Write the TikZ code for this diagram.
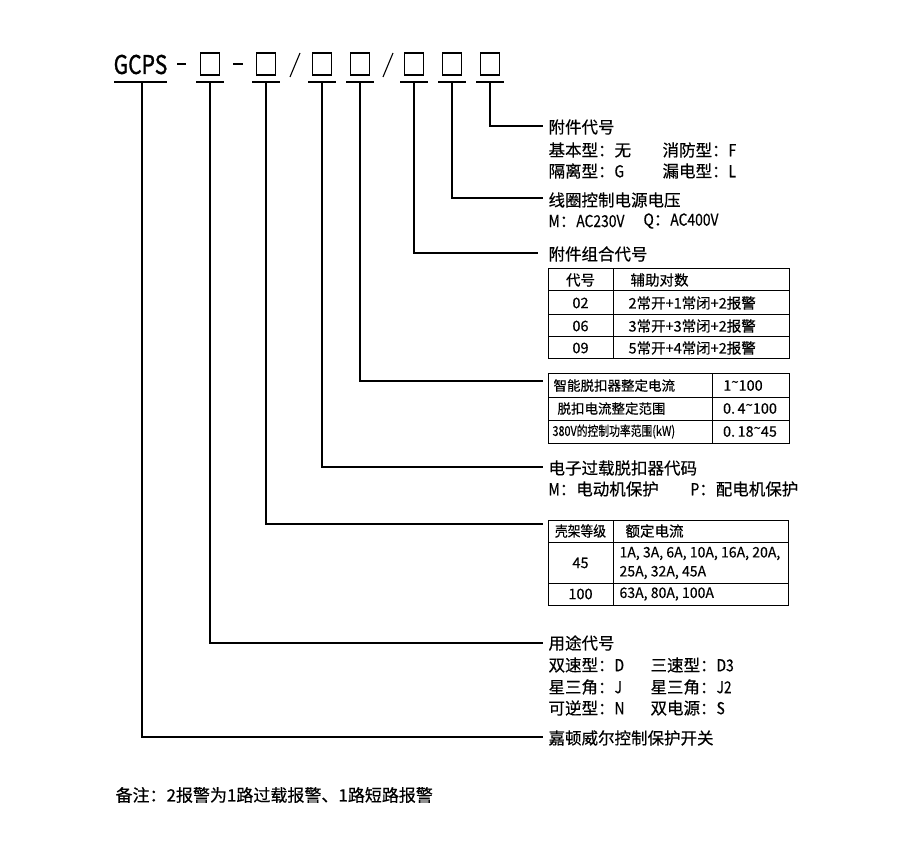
\documentclass[tikz,border=0pt]{standalone}
\usepackage{fontspec}
\setmainfont[FakeBold=0.4]{Noto Sans CJK SC}
\newfontfamily\gcpsfont[FakeBold=1.2]{Noto Sans CJK SC}
\newcommand\uptld{\raisebox{0.5ex}{\fontsize{13}{13}\selectfont\textasciitilde}}
\newcommand\lat[1]{\scalebox{0.84}[1]{#1}}
\begin{document}
\begin{tikzpicture}[x=1pt,y=-1pt,line width=1.1pt,
  box/.style={draw,minimum width=19pt,minimum height=22pt,inner sep=0pt},
  lbl/.style={font=\fontsize{16.5}{18}\selectfont,anchor=west,inner sep=0pt},
  tb/.style={font=\fontsize{14.5}{16}\selectfont,inner sep=0pt},
  tbw/.style={tb,anchor=west},
  grid/.style={line width=1pt}]
\useasboundingbox (0,0) rectangle (900,850);
% header
\node[font=\fontsize{24.5}{26}\gcpsfont,inner sep=0pt] (gcps) at (140.5,64.5) {\scalebox{0.86}[1.05]{GCPS}};
\foreach \n/\x in {1/210,2/266,3/322,4/360,5/414,6/452,7/490}{
  \node[box] (b\n) at (\x,64) {};
  \coordinate (u\n) at (\x,82);
  \draw (\x-14,82) -- (\x+14,82);
}
\coordinate (u0) at (142,82);
\draw (114,82) -- (167,82);
\draw (177,64) -- (186,64);
\draw (233,64) -- (243,64);
\draw (300,53) -- (290,77);
\draw (393,53) -- (383,77);
% leader ends
\coordinate (e7) at (543,126);
\coordinate (e6) at (543,198);
\coordinate (e5) at (538,253);
\coordinate (e4) at (543,381);
\coordinate (e3) at (543,467);
\coordinate (e2) at (543,524);
\coordinate (e1) at (543,643);
\coordinate (e0) at (543,737);
\foreach \n in {0,...,7}{\draw (u\n) |- (e\n);}
% 7
\node[lbl] (t7) at (548,127) {附件代号};
\node[lbl] (t7a) at (548,150) {基本型：无};
\node[lbl] (t7b) at (662,150) {消防型：\lat{F}};
\node[lbl] (t7c) at (548,171) {隔离型：\lat{G}};
\node[lbl] (t7d) at (662,171) {漏电型：\lat{L}};
% 6
\node[lbl] (t6) at (548,200) {线圈控制电源电压};
\node[lbl] (t6a) at (548,221) {\lat{M}：\lat{AC230V}};
\node[lbl] (t6b) at (643,221) {\lat{Q}：\lat{AC400V}};
% 5 + table 1
\node[lbl] (t5) at (548,254) {附件组合代号};
\draw[grid] (548,269) rectangle (789,359);
\foreach \y in {291,315,337}{\draw[grid] (548,\y) -- (789,\y);}
\draw[grid] (613,269) -- (613,359);
\node[tb] (h1) at (580.5,280) {代号};
\node[tbw] (h2) at (630,280) {辅助对数};
\node[tb] (r1a) at (580.5,303) {02};
\node[tbw] (r1b) at (628,303) {2常开+1常闭+2报警};
\node[tb] (r2a) at (580.5,326) {06};
\node[tbw] (r2b) at (628,326) {3常开+3常闭+2报警};
\node[tb] (r3a) at (580.5,348) {09};
\node[tbw] (r3b) at (628,348) {5常开+4常闭+2报警};
% table 2
\draw[grid] (548,374) rectangle (789,443);
\foreach \y in {397,420}{\draw[grid] (548,\y) -- (789,\y);}
\draw[grid] (712,374) -- (712,443);
\node[tbw,font=\fontsize{13.5}{15}\selectfont] (s1a) at (553,385.5) {智能脱扣器整定电流};
\node[tbw,font=\fontsize{13.5}{15}\selectfont] (s2a) at (557,408.5) {脱扣电流整定范围};
\node[tbw,font=\fontsize{13.5}{15}\selectfont] (s3a) at (552,431.5) {\scalebox{0.8}[1]{380V的控制功率范围(kW)}};
\node[tb] (s1b) at (743,385.5) {1\uptld 100};
\node[tb] (s2b) at (750,408.5) {0.\,4\uptld 100};
\node[tb] (s3b) at (750,431.5) {0.\,18\uptld 45};
% 3
\node[lbl] (t3) at (548,468) {电子过载脱扣器代码};
\node[lbl] (t3a) at (548,489) {\lat{M}：电动机保护};
\node[lbl] (t3b) at (690,489) {\lat{P}：配电机保护};
% table 3
\draw[grid] (548,520) rectangle (788,605);
\foreach \y in {542,583}{\draw[grid] (548,\y) -- (788,\y);}
\draw[grid] (613,520) -- (613,605);
\node[tb] (k1a) at (580.5,531) {\scalebox{0.88}[1]{壳架等级}};
\node[tbw] (k1b) at (625,531) {额定电流};
\node[tb] (k2a) at (580.5,563) {45};
\node[tbw] (k2b) at (619,553.5) {\scalebox{0.97}[1]{1A, 3A, 6A, 10A, 16A, 20A,}};
\node[tbw] (k2c) at (619,572.5) {\scalebox{0.97}[1]{25A, 32A, 45A}};
\node[tb] (k3a) at (580.5,594) {100};
\node[tbw] (k3b) at (619,594) {\scalebox{0.97}[1]{63A, 80A, 100A}};
% 1
\node[lbl] (t1) at (548,643) {用途代号};
\node[lbl] (t1a) at (548,665) {双速型：\lat{D}};
\node[lbl] (t1b) at (650,665) {三速型：\lat{D3}};
\node[lbl] (t1c) at (548,687) {星三角：\lat{J}};
\node[lbl] (t1d) at (650,687) {星三角：\lat{J2}};
\node[lbl] (t1e) at (548,708) {可逆型：\lat{N}};
\node[lbl] (t1f) at (650,708) {双电源：\lat{S}};
% 0
\node[lbl] (t0) at (548,738) {嘉顿威尔控制保护开关};
% note
\node[lbl,font=\fontsize{17}{18}\selectfont] (note) at (115,795) {备注：2报警为1路过载报警、1路短路报警};
\end{tikzpicture}
\end{document}
